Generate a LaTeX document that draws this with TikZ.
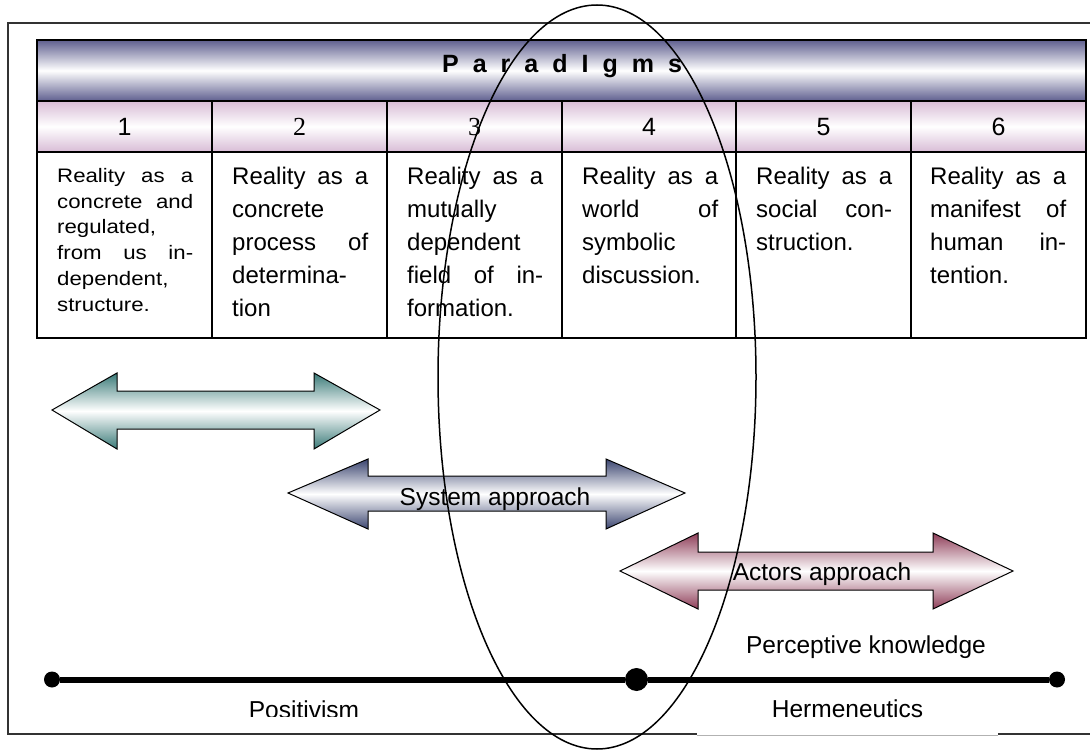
\documentclass[tikz,border=0pt]{standalone}
\usepackage{fontspec}
\setmainfont{Liberation Sans}
\newfontfamily\numserif{Liberation Serif}
\newfontfamily\smallcell[FakeStretch=1.14]{Liberation Sans}
\definecolor{hdrblue}{HTML}{5F5F8F}
\definecolor{numpink}{HTML}{D8BCD6}
\definecolor{tealdark}{HTML}{3A7A78}
\definecolor{sysblue}{HTML}{3B4570}
\definecolor{actred}{HTML}{8E3D58}
\hbadness=10000

\begin{document}
\begin{tikzpicture}
    [x=1pt, y=-1pt,
     celltext/.style={anchor=north west, inner sep=0pt, text width=136pt, align=justify, font=\fontsize{24}{33}\selectfont},
     numtext/.style={anchor=base, inner sep=0pt, font=\fontsize{25}{28}\selectfont},
     tagtext/.style={anchor=base, inner sep=0pt, font=\fontsize{24.5}{29}\selectfont},
     bulletdot/.style={circle, fill=black, inner sep=0pt},
     tabline/.style={draw=black, line width=1.5pt},
     dblarrow/.style={draw=black, line width=1pt, middle color=white},
    ]
\useasboundingbox (0,0) rectangle (1090,751);

% frame and table
\draw[black!80, line width=1.5pt] (1090,23) -- (8,23) -- (8,734) -- (1090,734);
\shade[top color=hdrblue, bottom color=hdrblue, middle color=white] (37,40) rectangle (1086,101);
\shade[top color=numpink, bottom color=numpink, middle color=white] (37,101) rectangle (1086,152);
\draw[tabline] (37,40) rectangle (1086,338);
\draw[tabline] (37,101) -- (1086,101) (37,152) -- (1086,152);
\draw[tabline] (212,101) -- (212,338) (387,101) -- (387,338) (562,101) -- (562,338) (736,101) -- (736,338) (911,101) -- (911,338);

\node[anchor=base, inner sep=0pt, font=\bfseries\fontsize{25}{29}\selectfont] (title) at (562,73) {\spaceskip=14pt P a r a d I g m s};

\node[numtext] (num1) at (124.5,136) {1};
\node[numtext, font=\numserif\fontsize{26}{28}\selectfont] (num2) at (299.5,136) {2};
\node[numtext, font=\numserif\fontsize{26}{28}\selectfont] (num3) at (474.5,136) {3};
\node[numtext] (num4) at (649,136) {4};
\node[numtext] (num5) at (823.5,136) {5};
\node[numtext] (num6) at (998.5,136) {6};

\node[celltext, font=\smallcell\fontsize{19.5}{25.8}\selectfont] (desc1) at (57,168) {Reality as a\linebreak concrete and\linebreak regulated,\linebreak from us in-\linebreak dependent,\linebreak structure.};
\node[celltext] (desc2) at (232,167) {Reality as a\linebreak concrete\linebreak process of\linebreak determina-\linebreak tion};
\node[celltext] (desc3) at (407,167) {Reality as a\linebreak mutually\linebreak dependent\linebreak field of in-\linebreak formation.};
\node[celltext] (desc4) at (582,167) {Reality as a\linebreak world of\linebreak symbolic\linebreak discussion.};
\node[celltext] (desc5) at (756,167) {Reality as a\linebreak social con-\linebreak struction.};
\node[celltext] (desc6) at (930,167) {Reality as a\linebreak manifest of\linebreak human in-\linebreak tention.};

% approaches
\shade[dblarrow, top color=tealdark, bottom color=tealdark, middle color=white] (52,410) -- (117,373) -- (117,391) -- (314,391) -- (314,373) -- (380,410) -- (314,449) -- (314,429) -- (117,429) -- (117,449) -- cycle;
\shade[dblarrow, top color=sysblue, bottom color=sysblue, middle color=white] (288,493) -- (368,459) -- (368,476) -- (606,476) -- (606,459) -- (685,493) -- (606,529) -- (606,511) -- (368,511) -- (368,529) -- cycle;
\shade[dblarrow, top color=actred, bottom color=actred, middle color=white] (620,571) -- (698,533) -- (698,552) -- (933,552) -- (933,533) -- (1013,571) -- (933,609) -- (933,590) -- (698,590) -- (698,609) -- cycle;
\node[tagtext] (sysapp) at (495,505) {System approach};
\node[tagtext] (actapp) at (822,580) {Actors approach};

% knowledge line
\node[tagtext] (perceptive) at (866,653) {Perceptive knowledge};
\node[bulletdot, minimum size=16pt] (posstart) at (52,679.5) {};
\node[bulletdot, minimum size=23pt] (pivot) at (636.5,679.5) {};
\node[bulletdot, minimum size=16pt] (hermend) at (1057,679.5) {};
\draw[line width=6pt] (posstart) -- (pivot);
\draw[line width=6pt] (pivot) -- (hermend);
\begin{scope}
\clip (200,690) rectangle (420,716);
\node[tagtext] (positivism) at (304,718.5) {Positivism};
\end{scope}
\fill[white] (697,700) rectangle (998,736);
\draw[gray!60, line width=0.8pt] (697,735) -- (998,735);
\node[tagtext] (hermeneutics) at (847.5,717) {Hermeneutics};

\draw[line width=1.5pt] (597,377) ellipse [x radius=159, y radius=372];
\end{tikzpicture}
\end{document}
